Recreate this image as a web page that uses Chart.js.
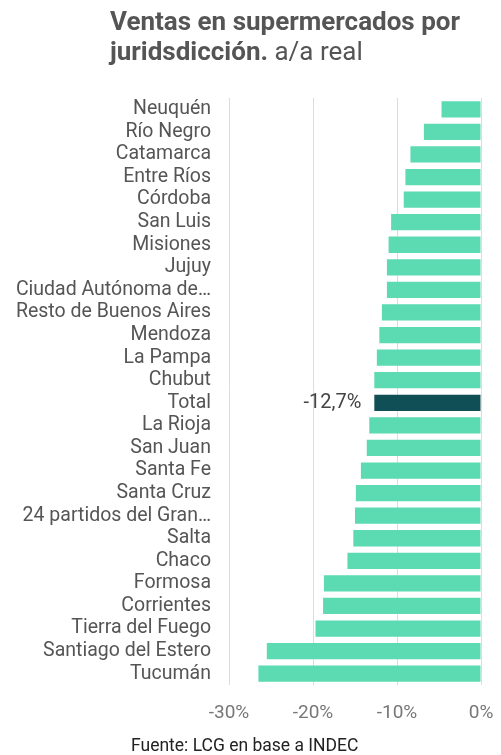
<!DOCTYPE html>
<html>
<head>
<meta charset="utf-8">
<script src="https://cdn.jsdelivr.net/npm/chart.js@4"></script>
<style>
  html, body { margin: 0; padding: 0; background: #fff; }
  body { width: 501px; height: 755px; position: relative; overflow: hidden; font-family: Roboto, "Noto Sans", sans-serif; }
  #title { position: absolute; left: 110px; top: 6px; width: 391px; font-size: 26px; line-height: 30px; color: #555; }
  #title b { font-weight: 700; }
  #title span { font-weight: 400; }
  #footer { position: absolute; left: 131px; top: 734px; font-size: 17.5px; color: #222; line-height: 22px; }
  #wrap { position: absolute; left: 0; top: 0; width: 501px; height: 755px; }
</style>
</head>
<body>
<div id="wrap"><canvas id="c" width="501" height="755"></canvas></div>
<div id="title"><b>Ventas en supermercados por juridsdicción.</b> <span>a/a real</span></div>
<div id="footer">Fuente: LCG en base a INDEC</div>
<script>
const categories = [
  "Neuquén", "Río Negro", "Catamarca", "Entre Ríos", "Córdoba", "San Luis",
  "Misiones", "Jujuy", "Ciudad Autónoma de…", "Resto de Buenos Aires", "Mendoza",
  "La Pampa", "Chubut", "Total", "La Rioja", "San Juan", "Santa Fe", "Santa Cruz",
  "24 partidos del Gran…", "Salta", "Chaco", "Formosa", "Corrientes",
  "Tierra del Fuego", "Santiago del Estero", "Tucumán"
];
const values = [
  -4.7, -6.8, -8.4, -9.0, -9.2, -10.7,
  -11.0, -11.2, -11.2, -11.8, -12.1,
  -12.4, -12.7, -12.7, -13.3, -13.6, -14.3, -14.9,
  -15.0, -15.2, -15.9, -18.7, -18.8,
  -19.7, -25.5, -26.5
];
const highlight = "Total";
const highlightLabel = "-12,7%";
const xTicks = [-30, -20, -10, 0];

const colors = categories.map(c => c === highlight ? "#104f56" : "#5cdab2");

const labelPlugin = {
  id: "hlLabel",
  afterDatasetsDraw(chart) {
    const idx = categories.indexOf(highlight);
    const meta = chart.getDatasetMeta(0);
    const bar = meta.data[idx];
    const ctx = chart.ctx;
    ctx.save();
    ctx.font = "20px Roboto";
    ctx.fillStyle = "#444";
    ctx.textAlign = "right";
    ctx.textBaseline = "middle";
    ctx.fillText(highlightLabel, bar.x - 13, bar.y);
    ctx.restore();
  }
};

new Chart(document.getElementById("c"), {
  type: "bar",
  data: {
    labels: categories,
    datasets: [{
      data: values,
      backgroundColor: colors,
      borderWidth: 0,
      categoryPercentage: 0.72,
      barPercentage: 1.0
    }]
  },
  options: {
    indexAxis: "y",
    responsive: false,
    animation: false,
    layout: { padding: { top: 98, right: 20, bottom: 0, left: 0 } },
    plugins: { legend: { display: false }, tooltip: { enabled: false }, title: { display: false } },
    scales: {
      x: {
        min: -30, max: 0,
        afterBuildTicks(scale) { scale.ticks = xTicks.map(v => ({ value: v })); },
        afterFit(scale) { scale.height = 70; scale.paddingLeft = 0; scale.paddingRight = 0; },
        ticks: {
          callback: v => v + "%",
          color: "#777",
          font: { family: "Roboto", size: 19 },
          padding: 17,
          maxRotation: 0
        },
        grid: { color: "#dcdcdc", drawTicks: false, lineWidth: 1 },
        border: { display: false }
      },
      y: {
        afterFit(scale) { scale.width = 229; },
        ticks: {
          color: "#555",
          font: { family: "Roboto", size: 19.5 },
          padding: 18,
          autoSkip: false
        },
        grid: { display: false, drawTicks: false },
        border: { display: false }
      }
    }
  },
  plugins: [labelPlugin]
});
</script>
</body>
</html>
